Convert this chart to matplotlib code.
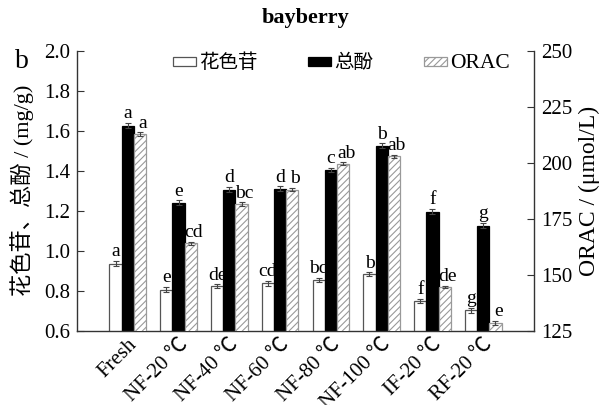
import matplotlib
matplotlib.use("Agg")
import matplotlib.pyplot as plt
import numpy as np

plt.rcParams['font.family'] = ['Liberation Serif', 'Noto Sans CJK SC']
plt.rcParams['hatch.linewidth'] = 0.8

categories = ["Fresh", "NF-20 ℃", "NF-40 ℃", "NF-60 ℃", "NF-80 ℃", "NF-100 ℃", "IF-20 ℃", "RF-20 ℃"]
anthocyanin = [0.935, 0.805, 0.822, 0.837, 0.856, 0.882, 0.748, 0.702]
anthocyanin_err = [0.012, 0.012, 0.010, 0.012, 0.010, 0.010, 0.010, 0.012]
phenol = [1.625, 1.240, 1.305, 1.310, 1.405, 1.525, 1.195, 1.125]
phenol_err = [0.012, 0.012, 0.012, 0.012, 0.010, 0.012, 0.012, 0.012]
orac = [212.8, 164.0, 181.5, 188.0, 199.5, 202.8, 144.5, 128.5]
orac_err = [0.8, 0.8, 0.8, 0.8, 0.6, 0.8, 0.6, 1.0]
letters_anth = ["a", "e", "de", "cd", "bc", "b", "f", "g"]
letters_phen = ["a", "e", "d", "d", "c", "b", "f", "g"]
letters_orac = ["a", "cd", "bc", "b", "ab", "ab", "de", "e"]
legend_labels = ["花色苷", "总酚", "ORAC"]

fig = plt.figure(figsize=(6.01, 4.05), dpi=100)
L, R, B, T = 77/601, 534/601, 1-330.7/405, 1-50.7/405
ax = fig.add_axes([L, B, R-L, T-B])
ax2 = ax.twinx()

x = np.arange(len(categories))
w = 0.24
ekw = dict(ecolor='#444444', elinewidth=0.8, capsize=2, capthick=0.8)

b1 = ax.bar(x - w, anthocyanin, w, yerr=anthocyanin_err, color='white', edgecolor='#555555',
            linewidth=0.9, error_kw=ekw, label=legend_labels[0])
b2 = ax.bar(x, phenol, w, yerr=phenol_err, color='black', edgecolor='black',
            linewidth=0.9, error_kw=ekw, label=legend_labels[1])
b3 = ax2.bar(x + w, orac, w, yerr=orac_err, color='white', edgecolor='#999999',
             hatch='/////', linewidth=0.9, error_kw=ekw, label=legend_labels[2])

ax.set_xlim(-1, 8)
ax.set_ylim(0.6, 2.0)
ax2.set_ylim(125, 250)
ax.set_yticks(np.arange(0.6, 2.01, 0.2))
ax.set_yticklabels([f"{v:.1f}" for v in np.arange(0.6, 2.01, 0.2)])
ax2.set_yticks(np.arange(125, 251, 25))

for a in (ax, ax2):
    a.spines['top'].set_visible(False)
    for s in a.spines.values():
        s.set_color('#333333')
        s.set_linewidth(1.0)
ax.spines['right'].set_visible(False)
ax2.spines['left'].set_visible(False)
ax2.spines['bottom'].set_visible(False)

ax.tick_params(axis='y', direction='in', length=5, labelsize=15, color='#333333', pad=5)
ax2.tick_params(axis='y', direction='in', length=5, labelsize=15, color='#333333', pad=5)
ax.tick_params(axis='x', length=0, labelsize=15, pad=3)
ax.set_xticks(x)
ax.set_xticklabels(categories, rotation=45, ha='right', rotation_mode='anchor')

ax.set_ylabel("花色苷、总酚 / (mg/g)", fontsize=16, labelpad=7)
ax2.set_ylabel("ORAC / (μmol/L)", fontsize=17, labelpad=5)

fs = 14
for i in range(len(x)):
    ax.text(x[i] - w, anthocyanin[i] + anthocyanin_err[i] + 0.004, letters_anth[i],
            ha='center', va='bottom', fontsize=fs)
    ax.text(x[i], phenol[i] + phenol_err[i] + 0.004, letters_phen[i],
            ha='center', va='bottom', fontsize=fs)
    ax2.text(x[i] + w + 0.06, orac[i] + orac_err[i] + 0.3, letters_orac[i],
             ha='center', va='bottom', fontsize=fs)

leg = ax2.legend([b1, b2, b3], legend_labels, loc='center', bbox_to_anchor=(0.578, 0.955),
                 ncol=3, frameon=False, fontsize=14, handlelength=1.2, handleheight=0.35,
                 handletextpad=0.15, columnspacing=2.6)
leg.get_texts()[2].set_fontsize(15.5)

fig.text((L+R)/2, 1-18/405, "bayberry", ha='center', va='center', fontsize=16, fontweight='bold')
fig.text(22/601, 1-62/405, "b", ha='center', va='center', fontsize=20)

fig.savefig("out.png", dpi=100)
